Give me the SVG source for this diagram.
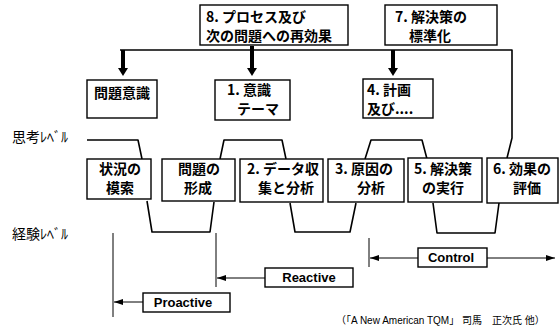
<svg xmlns="http://www.w3.org/2000/svg" width="559" height="335" viewBox="0 0 559 335">
<defs>
<marker id="ah" viewBox="0 0 9 6" refX="9" refY="3" markerWidth="9" markerHeight="6" markerUnits="userSpaceOnUse" orient="auto"><path d="M0,0 L9,3 L0,6 z" fill="#000"/></marker>
</defs>
<style>
.box{fill:#fff;stroke:#000;stroke-width:1.4}
.jp{font-family:"Noto Sans CJK JP",sans-serif;font-weight:bold;font-size:14px;fill:#000}
.lab{font-family:"Noto Sans CJK JP",sans-serif;font-size:14px;fill:#000}
.en{font-family:"Liberation Sans",Arial,sans-serif;font-weight:bold;font-size:13px;fill:#000}
.cite{font-family:"Liberation Sans","Noto Sans CJK JP",sans-serif;font-size:10px;fill:#000}
.ln{fill:none;stroke:#000;stroke-width:1.6;stroke-linejoin:round}
.thin{fill:none;stroke:#000;stroke-width:1}
.shaft{stroke:#000;stroke-width:4}
</style>
<rect width="559" height="335" fill="#fff"/>

<g id="connectors">
  <!-- thinking/experience wave -->
  <path class="ln" d="M87,140 H138 L142,159"/>
  <path class="ln" d="M147,201 L152,232 H210 L214,202"/>
  <path class="ln" d="M220,159 L224,140 H282 L286,159"/>
  <path class="ln" d="M290,203 L295,232 H350 L356,203"/>
  <path class="ln" d="M365,159 L371,140 H422 L427,159"/>
  <path class="ln" d="M433,203 L437,233 H495 L499,203"/>
  <path class="ln" d="M507,158 L512,138 V50 H120"/>
  <!-- thick down arrows -->
  <line class="shaft" x1="123" y1="50" x2="123" y2="69"/>
  <polygon points="118,68 128,68 123,76" fill="#000"/>
  <line class="shaft" x1="252" y1="46" x2="252" y2="69"/>
  <polygon points="247,68 257,68 252,76" fill="#000"/>
  <line class="shaft" x1="393" y1="50" x2="393" y2="69"/>
  <polygon points="388,68 398,68 393,76" fill="#000"/>
  <!-- vertical markers -->
  <line class="thin" x1="113" y1="233" x2="113" y2="317"/>
  <line class="thin" x1="216" y1="233" x2="216" y2="287"/>
  <line class="thin" x1="369" y1="238" x2="369" y2="267"/>
  <!-- range arrows -->
  <line class="thin" x1="143" y1="302" x2="114" y2="302" marker-end="url(#ah)"/>
  <line class="thin" x1="265" y1="278" x2="217" y2="278" marker-end="url(#ah)"/>
  <line class="thin" x1="418" y1="258" x2="370" y2="258" marker-end="url(#ah)"/>
  <line class="thin" x1="487" y1="258" x2="555" y2="258" marker-end="url(#ah)"/>
</g>

<g id="n8">
  <rect class="box" x="200" y="5" width="148" height="40"/>
  <text class="jp" x="206" y="22">8. プロセス及び</text>
  <text class="jp" x="206" y="41">次の問題への再効果</text>
</g>
<g id="n7">
  <rect class="box" x="385" y="5" width="112" height="40"/>
  <text class="jp" x="395" y="22">7. 解決策の</text>
  <text class="jp" x="430" y="41" text-anchor="middle">標準化</text>
</g>

<g id="awareness">
  <rect class="box" x="87" y="80" width="70" height="38"/>
  <text class="jp" x="122" y="98" text-anchor="middle">問題意識</text>
</g>
<g id="n1">
  <rect class="box" x="215" y="80" width="75" height="40"/>
  <text class="jp" x="227" y="95">1. 意識</text>
  <text class="jp" x="237" y="114">テーマ</text>
</g>
<g id="n4">
  <rect class="box" x="363" y="79" width="70" height="39"/>
  <text class="jp" x="367" y="95">4. 計画</text>
  <text class="jp" x="367" y="114">及び....</text>
</g>

<g id="thinkLabel"><text class="lab" x="12" y="142">思考ﾚﾍﾞﾙ</text></g>
<g id="expLabel"><text class="lab" x="12" y="239">経験ﾚﾍﾞﾙ</text></g>

<g id="s1">
  <rect class="box" x="87" y="159" width="64" height="40"/>
  <text class="jp" x="120" y="174" text-anchor="middle">状況の</text>
  <text class="jp" x="120" y="193" text-anchor="middle">模索</text>
</g>
<g id="s2">
  <rect class="box" x="162" y="159" width="73" height="42"/>
  <text class="jp" x="199" y="174" text-anchor="middle">問題の</text>
  <text class="jp" x="198" y="193" text-anchor="middle">形成</text>
</g>
<g id="n2">
  <rect class="box" x="240" y="159" width="83" height="43"/>
  <text class="jp" x="247" y="174">2. データ収</text>
  <text class="jp" x="286" y="193" text-anchor="middle">集と分析</text>
</g>
<g id="n3">
  <rect class="box" x="328" y="159" width="76" height="43"/>
  <text class="jp" x="335" y="174">3. 原因の</text>
  <text class="jp" x="371" y="193" text-anchor="middle">分析</text>
</g>
<g id="n5">
  <rect class="box" x="408" y="158" width="74" height="44"/>
  <text class="jp" x="414" y="174">5. 解決策</text>
  <text class="jp" x="443" y="193" text-anchor="middle">の実行</text>
</g>
<g id="n6">
  <rect class="box" x="487" y="158" width="71" height="45"/>
  <text class="jp" x="493" y="174">6. 効果の</text>
  <text class="jp" x="527" y="193" text-anchor="middle">評価</text>
</g>

<g id="proactive">
  <rect class="box" x="143" y="293" width="87" height="19"/>
  <text class="en" x="183" y="307" text-anchor="middle">Proactive</text>
</g>
<g id="reactive">
  <rect class="box" x="265" y="268" width="88" height="19"/>
  <text class="en" x="309" y="282" text-anchor="middle">Reactive</text>
</g>
<g id="control">
  <rect class="box" x="418" y="248" width="69" height="19"/>
  <text class="en" x="451" y="262" text-anchor="middle">Control</text>
</g>

<g id="citation">
  <text class="cite" x="336" y="324">（「A New American TQM」 司馬　正次氏 他）</text>
</g>
</svg>
